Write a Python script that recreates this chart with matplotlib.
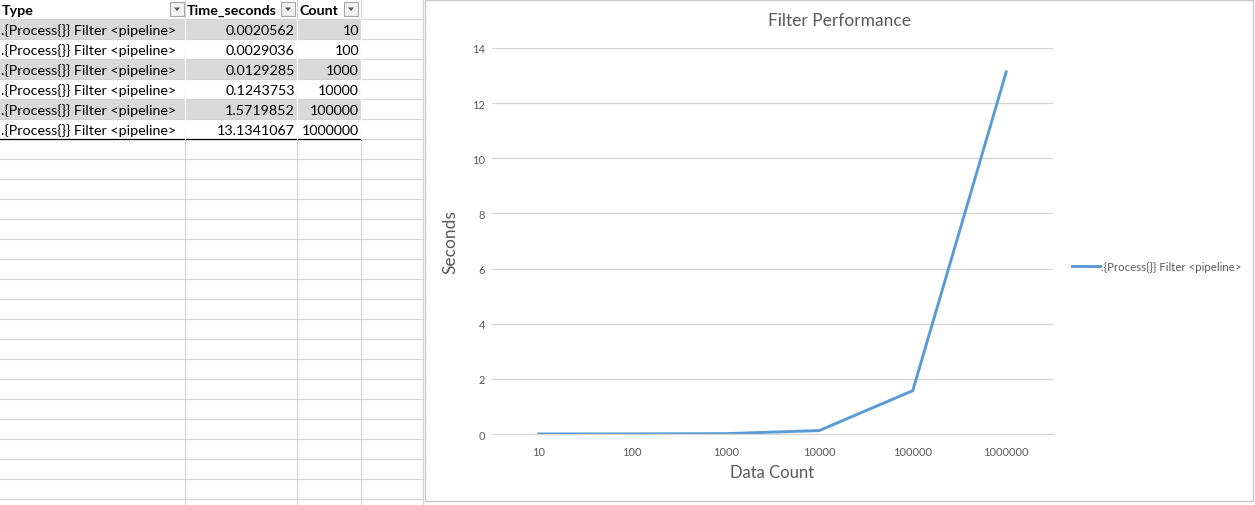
#!/usr/bin/env python3
"""Excel-style screenshot: filter timing table next to a line chart."""
import matplotlib
matplotlib.use("Agg")
import matplotlib.pyplot as plt
from matplotlib.patches import Rectangle, Polygon

W, H = 1255, 506
FONT = ["Lato", "DejaVu Sans"]
GRID = "#d4d4d4"
SHADE = "#d9d9d9"
INK = "#000000"
AXTXT = "#595959"
BLUE = "#5b9bd5"

# ---- data ------------------------------------------------------------------
headers = ["Type", "Time_seconds", "Count"]
types = [".{Process{}} Filter <pipeline>"] * 6
time_seconds = [0.0020562, 0.0029036, 0.0129285, 0.1243753, 1.5719852, 13.1341067]
counts = [10, 100, 1000, 10000, 100000, 1000000]
series_name = ".{Process{}} Filter <pipeline>"

fig = plt.figure(figsize=(W / 100, H / 100), dpi=100)
fig.patch.set_facecolor("white")

# ---- spreadsheet layer (pixel coords) -------------------------------------- #
sh = fig.add_axes([0, 0, 1, 1])
sh.set_xlim(0, W); sh.set_ylim(H, 0); sh.axis("off")

col_edges = [0, 185, 297, 361, 423]
row_h = 20
for y in range(row_h, H, row_h):
    sh.plot([0, col_edges[-1]], [y, y], color=GRID, lw=0.8)
for x in col_edges[1:]:
    sh.plot([x, x], [0, H], color=GRID, lw=0.8)

for i in range(len(types)):
    top = row_h * (i + 1)
    if i % 2 == 0:
        sh.add_patch(Rectangle((0, top), col_edges[3], row_h, facecolor=SHADE,
                               edgecolor="none"))
    ymid = top + row_h / 2 + 1
    sh.text(1, ymid, types[i], fontsize=10.3, family=FONT, color=INK, va="center")
    sh.text(295, ymid, f"{time_seconds[i]:.7f}", fontsize=10.3, family=FONT,
            color=INK, va="center", ha="right")
    sh.text(359, ymid, str(counts[i]), fontsize=10.3, family=FONT, color=INK,
            va="center", ha="right")
sh.plot([0, col_edges[3]], [row_h * 7, row_h * 7], color=INK, lw=0.9)
for x in col_edges[1:4]:
    sh.plot([x, x], [row_h, row_h * 7], color="white", lw=0.8)

# header row with filter buttons
for lab, x0, bx in zip(headers, col_edges[:3], (170, 281, 344)):
    sh.text(x0 + 2, 11, lab, fontsize=10.3, family=FONT, fontweight="bold",
            color=INK, va="center")
    sh.add_patch(Rectangle((bx, 3), 14, 14, facecolor="#f2f2f2", edgecolor="#a6a6a6",
                           lw=0.8))
    sh.add_patch(Polygon([(bx + 4, 8.5), (bx + 10, 8.5), (bx + 7, 12)],
                         closed=True, facecolor="#555555", edgecolor="none"))

# chart object frame + title (title is centred on the chart object)
sh.add_patch(Rectangle((425, 1), 828, 501, facecolor="white", edgecolor="#c8c8c8",
                       lw=1.0))
sh.text(839, 21, "Filter Performance", fontsize=12.5, color=AXTXT, family=FONT,
        ha="center", va="center")

# ---- chart ----------------------------------------------------------------- #
ax = fig.add_axes([492 / W, 1 - 435 / H, (1053 - 492) / W, (435 - 49) / H])
ax.plot([str(c) for c in counts], time_seconds, color=BLUE, lw=2.1,
        solid_joinstyle="round", label=series_name)
ax.set_xlim(-0.5, len(counts) - 0.5)
ax.set_ylim(0, 14)
ax.set_yticks(range(0, 15, 2))
ax.grid(axis="y", color=GRID, lw=0.9)
ax.set_axisbelow(True)
for side in ("top", "right", "left"):
    ax.spines[side].set_visible(False)
ax.spines["bottom"].set_color(GRID)
ax.tick_params(length=0, colors=AXTXT, labelsize=8.0)
ax.tick_params(axis="x", pad=9)
ax.tick_params(axis="y", pad=5)
for t in ax.get_xticklabels() + ax.get_yticklabels():
    t.set_family(FONT)

ax.set_xlabel("Data Count", fontsize=12, color=AXTXT, family=FONT, labelpad=5)
ax.set_ylabel("Seconds", fontsize=12.5, color=AXTXT, family=FONT, labelpad=10)

leg = ax.legend(loc="center left", bbox_to_anchor=(1.016, 0.435), frameon=False,
                handlelength=2.4, handletextpad=0.1,
                prop={"family": FONT, "size": 8.3})
for t in leg.get_texts():
    t.set_color(AXTXT)

fig.savefig("out.png", dpi=100, facecolor="white")
